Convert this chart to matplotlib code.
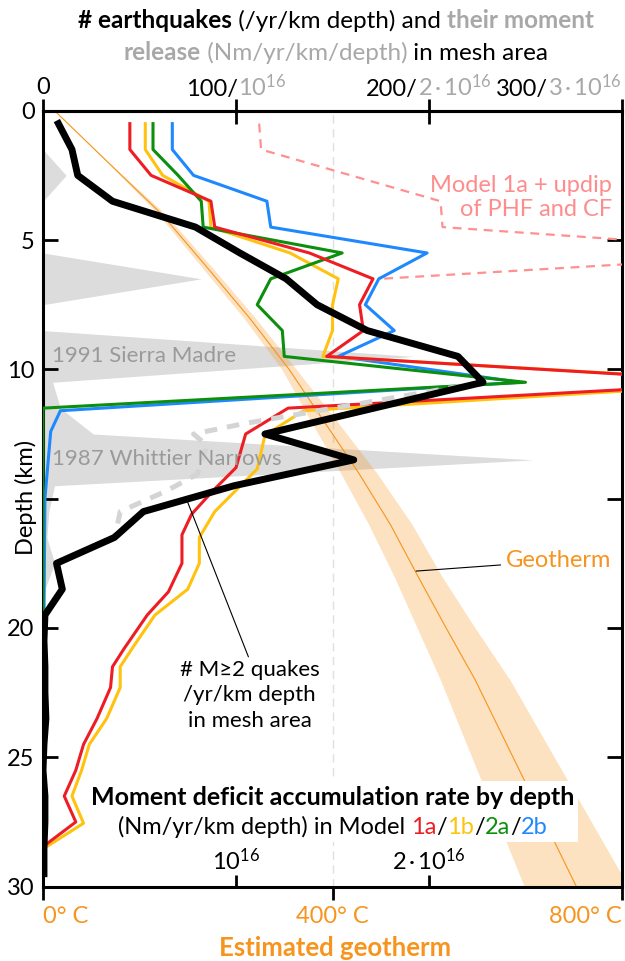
import matplotlib
matplotlib.use('Agg')
import matplotlib.pyplot as plt
from matplotlib.offsetbox import TextArea, HPacker, VPacker, AnnotationBbox

plt.rcParams['font.family'] = ['Lato', 'DejaVu Sans']
plt.rcParams['mathtext.fontset'] = 'custom'
plt.rcParams['mathtext.rm'] = 'Lato'
plt.rcParams['mathtext.default'] = 'regular'

# --- data ---
# earthquakes M>=2 per yr per km depth
quake_depth = [0.5, 1.5, 2.5, 3.5, 4.5, 5.5, 6.5, 7.5, 8.5, 9.5, 10.5, 12.5, 13.5, 14.5,
               15.5, 16.5, 17.5, 18.5, 19.5, 20.5, 21.5, 22.5, 23.5, 24.5, 25.5, 26.5,
               27.5, 28.5, 29.5]
quake_rate = [8, 15, 18, 36, 79, 102, 126, 142, 168, 215, 228, 115, 161, 99,
              52, 37, 7, 10, 1, 0.5, 1, 1, 1.5, 0.5, 0, 1, 1, 0.5, 0.5]

# same, without the Whittier Narrows aftershocks (dashed grey)
quake_alt_depth = [10.5, 12.1, 12.5, 12.95, 14.05, 14.7, 15.5, 15.85, 16.5]
quake_alt_rate = [228, 104, 78, 85, 80, 64, 40, 39, 37]

# seismic moment release (1e16 Nm/yr/km)
release_depth = [0.5, 1.5, 2.5, 3.5, 4.5, 5.5, 6.5, 7.5, 8.5, 9.5, 10.5, 11.5, 12.5,
                 13.5, 14.5, 15.5, 16.5, 17.5, 18.5, 19.5]
release_rate = [0, 0, 0.12, 0, 0, 0, 0.82, 0, 0, 1.92, 0.05, 0.09, 0.26,
                2.54, 0.06, 0.03, 0.02, 0.06, 0.01, 0]

# moment deficit accumulation rate (1e16 Nm/yr/km)
m1a_depth = [0.5, 1.5, 2.5, 3.5, 4.5, 5.5, 6.5, 7.5, 8.5, 9.5, 10.5, 11.5, 12.5, 13.8,
             14.7, 15.6, 16.4, 17.5, 18.6, 19.5, 20.8, 21.5, 22.3, 23.5, 24.5, 25.5,
             26.5, 27.5, 28.4]
m1a_rate = [0.45, 0.45, 0.56, 0.87, 0.89, 1.38, 1.71, 1.64, 1.66, 1.47, 3.70, 1.27, 1.05, 1.00,
            0.88, 0.77, 0.72, 0.72, 0.65, 0.54, 0.42, 0.36, 0.35, 0.28, 0.21, 0.17,
            0.11, 0.17, 0.01]

m1b_depth = [0.5, 1.5, 2.5, 3.5, 4.5, 5.5, 6.5, 7.5, 8.5, 9.5, 10.5, 11.6, 12.55, 13.85,
             15.5, 16.5, 17.5, 18.5, 19.5, 20.7, 21.5, 22.3, 23.5, 24.5, 25.5, 26.5,
             27.55, 28.45]
m1b_rate = [0.53, 0.53, 0.62, 0.86, 0.87, 1.28, 1.53, 1.50, 1.50, 1.45, 3.75, 1.35, 1.15, 1.11,
            0.89, 0.81, 0.81, 0.75, 0.58, 0.47, 0.40, 0.40, 0.33, 0.24, 0.20, 0.15,
            0.21, 0.02]

m2a_depth = [0.5, 1.5, 2.5, 3.5, 4.5, 5.5, 6.5, 7.5, 8.5, 9.5, 10.5, 11.5, 19.5]
m2a_rate = [0.57, 0.57, 0.70, 0.82, 0.83, 1.55, 1.18, 1.11, 1.24, 1.25, 2.50, 0.0, 0.0]

m2b_depth = [0.5, 1.5, 2.5, 3.5, 4.5, 5.5, 6.5, 7.5, 8.5, 9.5, 10.5, 11.6, 12.4, 15.0, 19.5]
m2b_rate = [0.67, 0.67, 0.78, 1.16, 1.18, 1.99, 1.74, 1.67, 1.82, 1.53, 2.47, 0.09, 0.04, 0.01, 0.005]

updip_depth = [0.5, 1.5, 3.5, 4.5, 5.5, 6.5]
updip_rate = [1.12, 1.13, 2.06, 2.07, 4.0, 1.75]

# estimated geotherm (deg C) with its range
geo_depth = [0, 2, 4, 6, 8, 10, 12, 14, 16, 18, 20, 22, 24, 26, 28, 30]
geo_temp = [16, 90, 164, 225, 285, 340, 388, 436, 480, 518, 557, 597, 632, 667, 702, 737]
geo_low = [16, 89, 159, 218, 277, 330, 370, 411, 450, 485, 517, 549, 578, 607, 636, 665]
geo_high = [16, 91, 169, 232, 293, 350, 406, 461, 510, 551, 597, 645, 686, 727, 768, 809]

temp_ticks = [0, 400, 800]
temp_labels = ['0° C', '400° C', '800° C']

# colours
RED = '#ee1d23'
YEL = '#ffc20e'
GRN = '#0c8f0c'
BLU = '#1e88ff'
ORANGE = '#f7941d'
GREY_TXT = '#9a9a9a'
TITLE_GREY = '#a8a8a8'
THIN = '\u2009'

# the x axis is in quakes/yr/km; 100 quakes <-> 1e16 Nm, 800 C <-> 300
def mom(v):
    return [x * 100 for x in v]

def temp(v):
    return [t * 300 / 800 for t in v]

fig = plt.figure(figsize=(6.25, 9.61), dpi=100)
ax = fig.add_axes([0.0688, 0.0774, 0.9264, 0.8074])

ax.fill_betweenx(release_depth, 0, mom(release_rate), color='#dcdcdc', lw=0, zorder=1)
ax.axvline(temp([400])[0], color='#e0e0e0', lw=1, ls=(0, (6, 4)), zorder=1.5)
ax.fill_betweenx(geo_depth, temp(geo_low), temp(geo_high), color=ORANGE, alpha=0.27,
                 lw=0, zorder=2)
ax.plot(temp(geo_temp), geo_depth, color=ORANGE, lw=0.8, zorder=2.5)

ax.plot(mom(updip_rate), updip_depth, color='#ff9090', lw=1.6, ls=(0, (4, 3)), zorder=3)
ax.plot(mom(m2b_rate), m2b_depth, color=BLU, lw=2.2, zorder=3.1)
ax.plot(mom(m1b_rate), m1b_depth, color=YEL, lw=2.2, zorder=3.2)
ax.plot(mom(m2a_rate), m2a_depth, color=GRN, lw=2.2, zorder=3.3)
ax.plot(mom(m1a_rate), m1a_depth, color=RED, lw=2.2, zorder=3.4)
ax.plot(quake_alt_rate, quake_alt_depth, color='#d4d4d4', lw=3.6, ls=(0, (2.5, 2)), zorder=3.5)
ax.plot(quake_rate, quake_depth, color='black', lw=5, zorder=4)

ax.set_xlim(0, 300)
ax.set_ylim(30, 0)

for s in ax.spines.values():
    s.set_linewidth(2.2)

# depth axis
ax.set_yticks(range(0, 31, 5))
ax.set_yticklabels(['0', '5', '10', '', '20', '25', '30'])
ax.tick_params(axis='y', direction='in', left=True, right=True, length=11, width=2,
               labelsize=17, pad=6)
fig.text(26 / 625, 1 - 497 / 961, 'Depth (km)', rotation=90, fontsize=17,
         ha='center', va='center')

# bottom: temperature (outside), moment (inside)
ax.set_xticks(temp(temp_ticks))
ax.set_xticklabels(temp_labels)
ax.tick_params(axis='x', which='major', direction='out', length=9, width=2,
               labelsize=17, labelcolor=ORANGE, pad=5)
xl = ax.get_xticklabels()
xl[0].set_ha('left')
xl[-1].set_ha('right')
ax.set_xticks([100, 200], minor=True)
ax.tick_params(axis='x', which='minor', direction='in', length=9, width=2)
ax.text(100, 29.0, '10$^{16}$', fontsize=17, ha='center', va='center')
ax.text(200, 29.0, '2' + THIN + '·' + THIN + '10$^{16}$', fontsize=17, ha='center', va='center')
fig.text(335 / 625, 1 - 948 / 961, 'Estimated geotherm', fontsize=18.5, fontweight='bold',
         color=ORANGE, ha='center', va='center')

# top axis: quakes / moment release
top = ax.secondary_xaxis('top')
top.set_xticks([0, 100, 200, 300])
top.set_xticklabels([])
top.tick_params(direction='inout', length=18, width=2)
top.spines['top'].set_linewidth(2.2)

top_labels = [(0, '0', '', 0.5), (100, '100/', '10$^{16}$', 0.5),
              (200, '200/', '2' + THIN + '·' + THIN + '10$^{16}$', 0.5),
              (300, '300/', '3' + THIN + '·' + THIN + '10$^{16}$', 1.0)]
for xv, black_part, grey_part, al in top_labels:
    parts = [TextArea(black_part, textprops=dict(fontsize=17, color='black'))]
    if grey_part:
        parts.append(TextArea(grey_part, textprops=dict(fontsize=17, color=TITLE_GREY)))
    box = HPacker(children=parts, align='baseline', pad=0, sep=0)
    ab = AnnotationBbox(box, (xv, 1), xycoords=('data', 'axes fraction'),
                        xybox=(0, 17), boxcoords='offset points', box_alignment=(al, 0.5),
                        frameon=False, annotation_clip=False)
    ax.add_artist(ab)

# title (two lines, mixed weights / colours)
def row(pieces, size=17.5):
    kids = [TextArea(t, textprops=dict(fontsize=size, color=c, fontweight=w)) for t, c, w in pieces]
    return HPacker(children=kids, align='baseline', pad=0, sep=0)

line1 = row([('# earthquakes', 'black', 'bold'), (' (/yr/km depth) and ', 'black', 'normal'),
             ('their moment', TITLE_GREY, 'bold')])
line2 = row([('release', TITLE_GREY, 'bold'), (' (Nm/yr/km/depth)', TITLE_GREY, 'normal'),
             (' in mesh area', 'black', 'normal')])
for ln, yy in [(line1, 21), (line2, 52)]:
    fig.add_artist(AnnotationBbox(ln, (336 / 625, 1 - yy / 961), xycoords='figure fraction',
                                  frameon=False, box_alignment=(0.5, 0.5)))

# moment deficit caption
cap1 = row([('Moment deficit accumulation rate by depth', 'black', 'bold')], size=18)
cap2 = row([('(Nm/yr/km depth) in Model ', 'black', 'normal'), ('1a', RED, 'normal'),
            ('/', 'black', 'normal'), ('1b', YEL, 'normal'), ('/', 'black', 'normal'),
            ('2a', GRN, 'normal'), ('/', 'black', 'normal'), ('2b', BLU, 'normal')], size=17)
cap = VPacker(children=[cap1, cap2], align='center', pad=0, sep=5)
ab = AnnotationBbox(cap, (150, 27.1), xycoords='data', frameon=True, box_alignment=(0.5, 0.5),
                    pad=0.3, zorder=6)
ab.patch.set_facecolor('white')
ab.patch.set_edgecolor('none')
ax.add_artist(ab)

# annotations
ax.text(4.5, 9.5, '1991 Sierra Madre', fontsize=16, color=GREY_TXT, va='center', zorder=5)
ax.text(4.5, 13.45, '1987 Whittier Narrows', fontsize=16, color=GREY_TXT, va='center', zorder=5)
ax.text(295, 3.35, 'Model 1a + updip\nof PHF and CF', fontsize=17, color='#ff8c8c',
        ha='right', va='center', linespacing=1.2, zorder=5)
ax.annotate('Geotherm', xy=(193.3, 17.8), xytext=(240, 17.4), fontsize=17, color=ORANGE,
            va='center', arrowprops=dict(arrowstyle='-', color='black', lw=0.8,
                                         shrinkA=2, shrinkB=0), zorder=5)
ax.annotate('# M≥2 quakes\n/yr/km depth\nin mesh area', xy=(74.5, 15.05), xytext=(107, 22.6),
            fontsize=16, ha='center', va='center', linespacing=1.35,
            arrowprops=dict(arrowstyle='-', color='black', lw=0.8, shrinkA=0, shrinkB=0,
                            relpos=(0.5, 1.0)), zorder=5)

fig.savefig('out.png', dpi=100)
